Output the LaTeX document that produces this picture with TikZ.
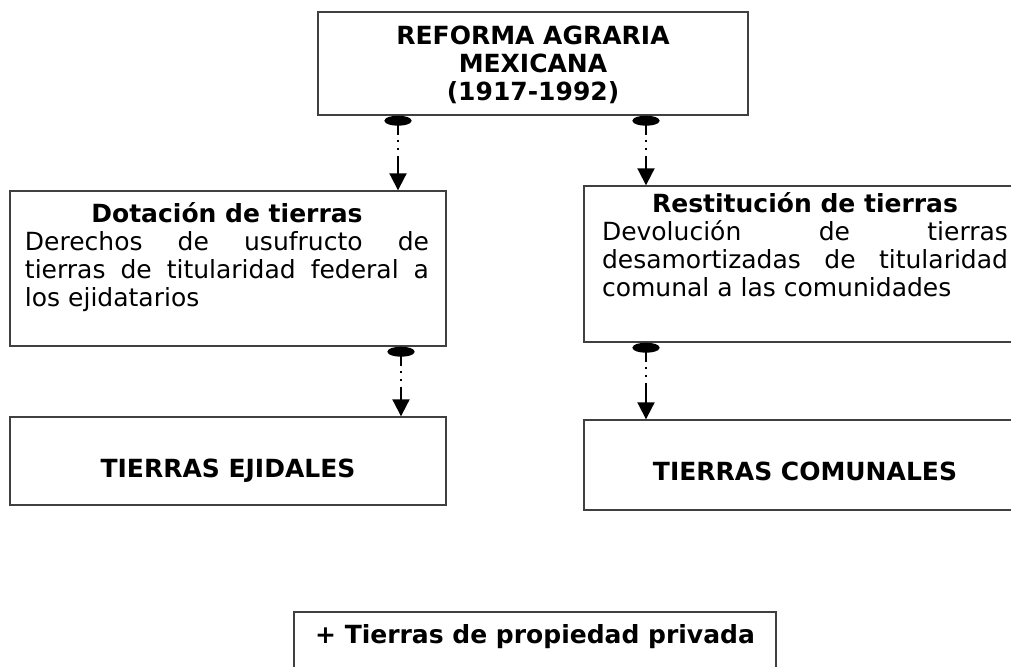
\documentclass[tikz,border=0pt]{standalone}
\usepackage{fontspec}
\setmainfont{DejaVu Sans}
\usepackage{tikz}
\usetikzlibrary{arrows.meta}
\setlength{\parindent}{0pt}

\begin{document}
\begin{tikzpicture}[x=0.5pt,y=-0.5pt,
      caja/.style={draw=black!75,line width=0.7pt,inner sep=0pt},
      texto/.style={inner sep=0pt,font=\fontsize{12.5}{14}\selectfont},
      flecha/.style={line width=1pt,{Ellipse[length=5pt,width=13.5pt]}-{Triangle[length=8.5pt,width=8.5pt]},
         dash pattern=on 5pt off 2.5pt on 1pt off 3pt on 1pt off 3pt on 60pt}]
      \useasboundingbox (0,0) rectangle (1011,666);
      % cajas
      \node[caja,minimum width=215pt,minimum height=51.5pt] (reforma) at (533,63.5) {};
      \node[caja,minimum width=218pt,minimum height=77.5pt] (dotacion) at (228,268.5) {};
      \node[caja,minimum width=221pt,minimum height=78pt] (restitucion) at (805,264) {};
      \node[caja,minimum width=218pt,minimum height=44pt] (ejidales) at (228,461) {};
      \node[caja,minimum width=221pt,minimum height=45pt] (comunales) at (805,465) {};
      \node[caja,minimum width=241pt,minimum height=44pt] (privada) at (535,656) {};
      % textos
      \node[texto,align=center,font=\fontsize{12.5}{14}\selectfont\bfseries] (treforma) at (533,65) {REFORMA AGRARIA\\MEXICANA\\(1917-1992)};
      \node[texto,anchor=north,text width=202pt,align=justify] (tdotacion) at (227,202) {{\centering\bfseries Dotación de tierras\par}
         Derechos de usufructo de\linebreak tierras de titularidad federal a\linebreak los ejidatarios};
      \node[texto,anchor=north,text width=203pt,align=justify] (trestitucion) at (805,192) {{\centering\bfseries Restitución de tierras\par}
         Devolución de tierras\linebreak desamortizadas de titularidad\linebreak comunal a las comunidades};
      \node[texto,anchor=base,font=\fontsize{12.5}{14}\selectfont\bfseries] (tejidales) at (228,477) {TIERRAS EJIDALES};
      \node[texto,anchor=base,font=\fontsize{12.5}{14}\selectfont\bfseries] (tcomunales) at (805,480) {TIERRAS COMUNALES};
      \node[texto,anchor=base,font=\fontsize{12.5}{14}\selectfont\bfseries] (tprivada) at (535,643) {+ Tierras de propiedad privada};
      % conectores
      \coordinate (x1) at (398,0);
      \coordinate (x2) at (646,0);
      \coordinate (x3) at (401,0);
      \coordinate (x4) at (646,0);
      \draw[flecha] (reforma.south -| x1) -- (dotacion.north -| x1);
      \draw[flecha] (reforma.south -| x2) -- (restitucion.north -| x2);
      \draw[flecha] (dotacion.south -| x3) -- (ejidales.north -| x3);
      \draw[flecha] (restitucion.south -| x4) -- (comunales.north -| x4);
   \end{tikzpicture}
\end{document}
